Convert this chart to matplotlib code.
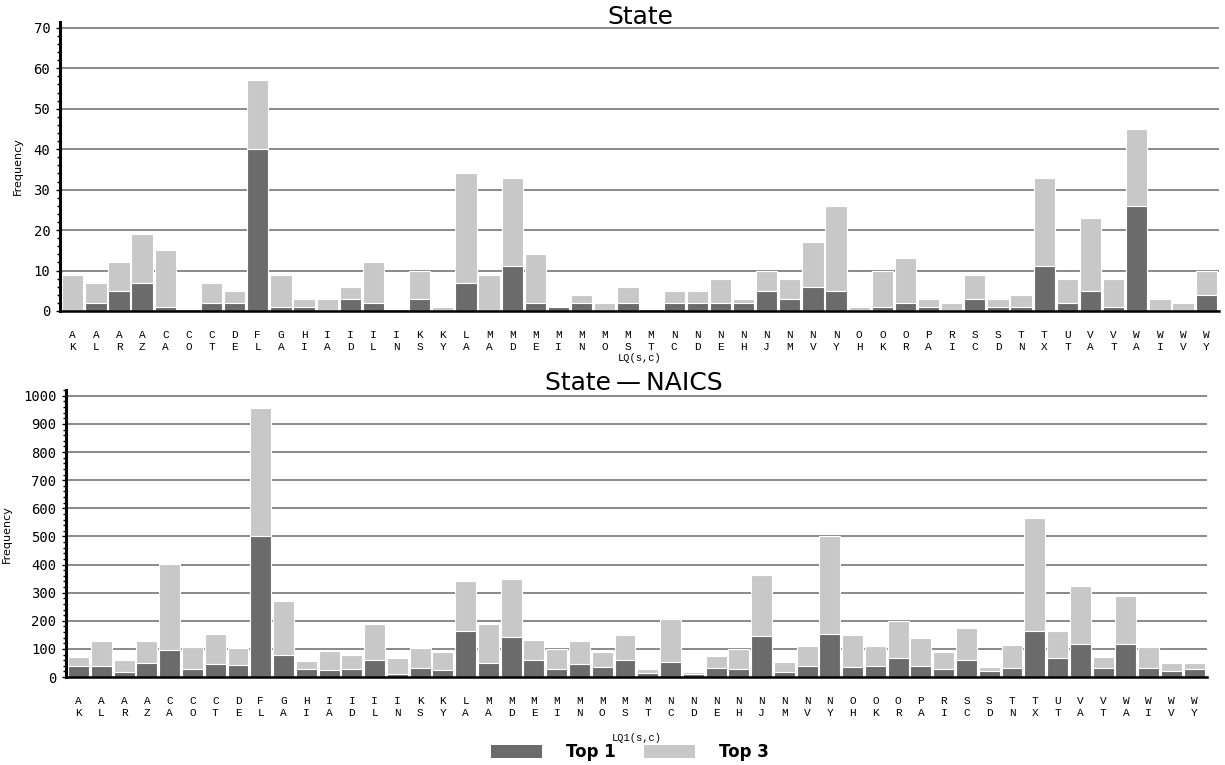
import matplotlib
matplotlib.use("Agg")
import matplotlib.pyplot as plt
from matplotlib.ticker import MultipleLocator
from matplotlib.patches import Patch

states = ["AK","AL","AR","AZ","CA","CO","CT","DE","FL","GA","HI","IA","ID","IL","IN",
          "KS","KY","LA","MA","MD","ME","MI","MN","MO","MS","MT","NC","ND","NE","NH",
          "NJ","NM","NV","NY","OH","OK","OR","PA","RI","SC","SD","TN","TX","UT","VA",
          "VT","WA","WI","WV","WY"]

state_top1 = [0,2,5,7,1,0,2,2,40,1,1,0,3,2,0,
              3,0,7,0,11,2,1,2,0,2,0,2,2,2,2,
              5,3,6,5,0,1,2,1,0,3,1,1,11,2,5,
              1,26,0,0,4]
state_top3 = [9,7,12,19,15,0,7,5,57,9,3,3,6,12,0,
              10,1,34,9,33,14,1,4,2,6,0,5,5,8,3,
              10,8,17,26,1,10,13,3,2,9,3,4,33,8,23,
              8,45,3,2,10]

naics_top1 = [38,40,18,49,97,30,46,44,500,78,30,25,27,62,12,
              33,25,162,49,142,62,30,46,37,62,13,53,9,33,30,
              145,18,39,152,36,40,66,39,27,59,20,32,165,69,116,
              32,116,32,20,27]
naics_top3 = [71,129,60,129,402,107,152,102,957,271,56,92,78,188,66,
              102,88,341,190,348,132,100,127,90,149,27,207,17,75,100,
              361,53,110,501,149,110,199,139,88,173,36,113,566,162,322,
              71,287,108,49,49]

DARK = "#6b6b6b"
LIGHT = "#c8c8c8"

fig = plt.figure(figsize=(12.25, 7.65), dpi=100)

def draw(ax, top1, top3, ymax, major, minor, xlabel, xlabelpad):
    x = list(range(len(states)))
    ax.set_axisbelow(True)
    ax.bar(x, top3, width=0.92, color=LIGHT, edgecolor="white", linewidth=0.8, zorder=1.2)
    ax.bar(x, top1, width=0.92, color=DARK, edgecolor="white", linewidth=0.8, zorder=1.4)
    ax.set_xlim(-0.55, len(states) - 0.45)
    ax.set_ylim(0, ymax)
    ax.yaxis.set_major_locator(MultipleLocator(major))
    ax.yaxis.set_minor_locator(MultipleLocator(minor))
    ax.grid(axis="y", color="#808080", linewidth=1.3)
    for s in ("top", "right"):
        ax.spines[s].set_visible(False)
    ax.spines["left"].set_linewidth(2.2)
    ax.spines["bottom"].set_linewidth(1.8)
    for s in ("left", "bottom"):
        ax.spines[s].set_zorder(3)
    ax.set_xticks(x)
    ax.set_xticklabels([s[0] + "\n" + s[1] for s in states],
                       family="Liberation Mono", fontsize=8, linespacing=1.15)
    ax.tick_params(axis="x", length=0, pad=14)
    ax.tick_params(axis="y", which="major", length=3, width=1, labelsize=10, pad=4)
    ax.tick_params(axis="y", which="minor", length=2, width=1)
    for lab in ax.get_yticklabels():
        lab.set_family("DejaVu Sans Mono")
    ax.set_ylabel("Frequency", fontsize=8, family="DejaVu Sans", labelpad=8)
    ax.set_xlabel(xlabel, family="Liberation Mono", fontsize=7.5, labelpad=xlabelpad)

ax1 = fig.add_axes([0.049, 0.5935, 0.946, 0.378])
draw(ax1, state_top1, state_top3, 71.5, 10, 2, "LQ(s,c)", 1)

ax2 = fig.add_axes([0.054, 0.115, 0.931, 0.375])
draw(ax2, naics_top1, naics_top3, 1020, 100, 20, "LQ1(s,c)", 11)

fig.text(0.5225, 1 - 24 / 765, "State", family="DejaVu Sans", fontsize=18,
         ha="center", va="baseline")
fig.text(0.517, 1 - 390 / 765, "State\u2009\u2014\u2009NAICS", family="DejaVu Sans",
         fontsize=18, ha="center", va="baseline")

handles = [Patch(facecolor=DARK, edgecolor="none", label="Top 1"),
           Patch(facecolor=LIGHT, edgecolor="none", label="Top 3")]
fig.legend(handles=handles, loc="center", bbox_to_anchor=(0.514, 0.017), ncol=2,
           frameon=False, prop={"family": "DejaVu Sans", "size": 12, "weight": "bold"},
           handlelength=3.1, handleheight=0.8, columnspacing=1.7, handletextpad=1.4)

fig.savefig("out.png", dpi=100)
